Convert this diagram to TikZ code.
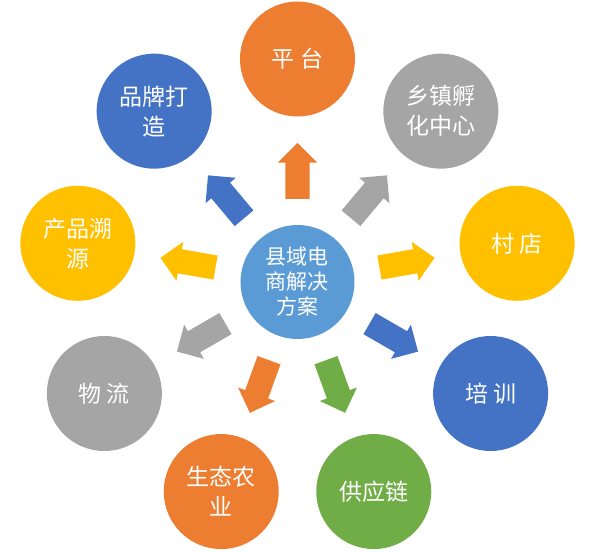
\documentclass[tikz,border=0pt]{standalone}
\usepackage{fontspec}
\setmainfont{Noto Sans CJK SC}
\usetikzlibrary{shapes.arrows,calc}

\definecolor{offorange}{HTML}{ED7D31}
\definecolor{offgray}{HTML}{A5A5A5}
\definecolor{offyellow}{HTML}{FFC000}
\definecolor{offblue}{HTML}{4472C4}
\definecolor{offgreen}{HTML}{70AD47}
\definecolor{offsky}{HTML}{5B9BD5}

\tikzset{
  bubble/.style={circle, minimum size=115pt, inner sep=0pt, text=white,
    align=center, font=\fontsize{23pt}{30pt}\selectfont},
  hubbubble/.style={circle, minimum size=114pt, inner sep=0pt, text=white,
    align=center, fill=offsky, font=\fontsize{21pt}{25pt}\selectfont},
  blockarrow/.style={single arrow, minimum height=56pt, minimum width=39pt,
    single arrow head extend=7.5pt, inner xsep=0pt, inner ysep=12pt,
    anchor=tail}
}

\begin{document}
\begin{tikzpicture}
                \fill[white] (-297.5pt,-270pt) rectangle (297.5pt,282pt);
                \useasboundingbox (-297.5pt,-270pt) rectangle (297.5pt,282pt);

                \node[hubbubble] (hub) at (0,0) {县域电\\商解决\\方案};

                \foreach \ang/\col/\nm/\txt in {
                    90/offorange/pingtai/{平\ 台},
                    50/offgray/xiangzhen/{乡镇孵\\化中心},
                    10/offyellow/cundian/{村\ 店},
                    -30/offblue/peixun/{培\ 训},
                    -70/offgreen/gongying/{供应链},
                    -110/offorange/shengtai/{生态农\\业},
                    -150/offgray/wuliu/{物\ 流},
                    170/offyellow/suyuan/{产品溯\\源},
                    130/offblue/pinpai/{品牌打\\造}}
                {
                    \node[bubble, fill=\col] (\nm) at (\ang:223pt) {\txt};
                    \node[blockarrow, fill=\col, rotate=\ang] (arr-\nm)
                        at ($(hub)!83pt!(\nm)$) {};
                }
            \end{tikzpicture}
\end{document}
